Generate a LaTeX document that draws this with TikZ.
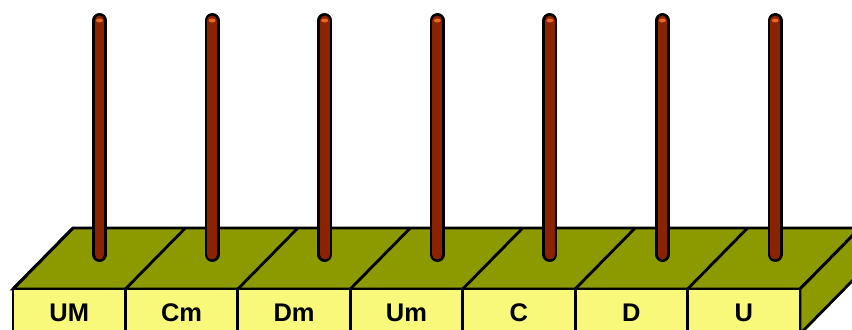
\documentclass[tikz,border=0pt]{standalone}
\usepackage{fontspec}
\setmainfont{Liberation Sans}
\usepackage{tikz}
\usetikzlibrary{positioning}
\definecolor{oliva}{RGB}{140,154,0}
\definecolor{amarillo}{RGB}{248,248,122}
\definecolor{varilla}{RGB}{140,35,0}
\definecolor{brillo}{RGB}{232,104,32}
\tikzset{
  caja/.style={draw=black, line width=1.6pt, line join=miter},
  etiqueta/.style={font=\fontsize{14.5}{16}\selectfont\bfseries, anchor=base, inner sep=0pt},
  borde/.style={black, line width=8.5pt, line cap=round},
  alma/.style={varilla, line width=5.6pt, line cap=round},
}
\begin{document}
\begin{tikzpicture}[x=0.02cm,y=-0.02cm]
        \clip (0,0) rectangle (852,330);
        % Cara superior y cara lateral de la base
        \filldraw[caja, fill=oliva] (13,289) -- (73,228) -- (860,228) -- (800,289) -- cycle;
        \filldraw[caja, fill=oliva] (800,289) -- (860,228) -- (860,273) -- (800,334) -- cycle;
        % Cara frontal
        \filldraw[caja, fill=amarillo] (13,289) rectangle (800,334);
        % Divisiones, etiquetas y varillas
        \foreach \n [count=\i from 0] in {UM,Cm,Dm,Um,C,D,U} {
            \draw[caja] ({13+\i*112.43},289) -- ++(0,45);
            \draw[caja] ({13+\i*112.43},289) -- ++(60,-61);
            \node[etiqueta] (et\i) at ({69.2+\i*112.43},321.5) {\n};
            \coordinate (arriba\i) at ({99.5+\i*112.6},20.5);
            \coordinate (abajo\i) at ({99.5+\i*112.6},254.5);
            \draw[borde] (arriba\i) -- (abajo\i);
            \draw[alma] (arriba\i) -- (abajo\i);
            \fill[brillo] (arriba\i) ellipse (3.5 and 2);
        }
\end{tikzpicture}
\end{document}
